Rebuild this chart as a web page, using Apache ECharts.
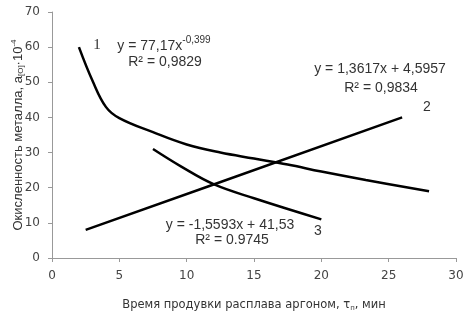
<!DOCTYPE html>
<html>
<head>
<meta charset="utf-8">
<script src="https://cdn.jsdelivr.net/npm/echarts@6/dist/echarts.min.js"></script>
<style>
  html, body { margin: 0; padding: 0; background: #fff; }
  #chart { width: 472px; height: 320px; }
</style>
</head>
<body>
<div id="chart"></div>
<script>
// curve 1 - power fit
var curve1X = [2, 3, 4, 5, 7.5, 10, 12.5, 15, 17.5, 20, 23.3, 28];
var curve1Y = [60, 50.5, 43, 39.8, 35.8, 32.3, 30, 28.3, 26.6, 24.6, 22.2, 19];
// curve 2 - linear growth
var curve2X = [2.5, 12, 26];
var curve2Y = [8, 20.9, 40];
// curve 3 - descending
var curve3X = [7.5, 9.6, 12, 15, 20];
var curve3Y = [31, 26, 21, 17, 11];

var xTicks = [0, 30, 5];
var yTicks = [0, 70, 10];

function pairs(xs, ys) {
    return xs.map(function (x, i) { return [x, ys[i]]; });
}

var myChart = echarts.init(document.getElementById('chart'));

var lineStyle = { color: '#000', width: 2.5 };
var eqFont = 'Liberation Sans, Arial, sans-serif';
var eqRich = {
    t: { fontSize: 14, fontFamily: eqFont, fill: '#333', lineHeight: 18, verticalAlign: 'bottom' },
    s: { fontSize: 10, fontFamily: eqFont, fill: '#333', lineHeight: 18, verticalAlign: 'top' }
};

function label(x, y, text, size) {
    return {
        type: 'text', x: x, y: y,
        style: {
            text: text, font: (size || 14) + 'px ' + eqFont, fill: '#333',
            align: 'center', verticalAlign: 'middle'
        }
    };
}

myChart.setOption({
    animation: false,
    grid: { left: 52, right: 16, top: 12, bottom: 62, containLabel: false, outerBoundsMode: 'none' },
    xAxis: {
        type: 'value',
        min: xTicks[0], max: xTicks[1], interval: xTicks[2],
        axisLine: { lineStyle: { color: '#999', width: 1 } },
        axisTick: { show: true, length: 4, lineStyle: { color: '#999' } },
        splitLine: { show: false },
        axisLabel: { color: '#444', fontSize: 12, fontFamily: 'DejaVu Sans', margin: 12 },
        name: 'Время продувки расплава аргоном, {i|τ}{sub|п}, мин',
        nameLocation: 'middle',
        nameGap: 41,
        nameMoveOverlap: false,
        nameTextStyle: {
            color: '#333', fontSize: 11.5, fontFamily: 'DejaVu Sans',
            rich: {
                i: { color: '#333', fontSize: 11.5, fontFamily: 'DejaVu Sans' },
                sub: { color: '#333', fontSize: 7, fontFamily: 'DejaVu Sans', verticalAlign: 'bottom', padding: [6, 0, 0, 0] }
            }
        }
    },
    yAxis: {
        type: 'value',
        min: yTicks[0], max: yTicks[1], interval: yTicks[2],
        axisLine: { show: true, lineStyle: { color: '#999', width: 1 } },
        axisTick: { show: true, length: 4, lineStyle: { color: '#999' } },
        splitLine: { show: false },
        axisLabel: { color: '#444', fontSize: 12, fontFamily: 'DejaVu Sans', margin: 12 },
        name: 'Окисленность металла, a{sub|[O]}·10{sup|-4}',
        nameLocation: 'middle',
        nameGap: 26,
        nameMoveOverlap: false,
        nameTextStyle: {
            color: '#333', fontSize: 13, fontFamily: eqFont,
            rich: {
                sub: { color: '#333', fontSize: 8, fontFamily: eqFont, padding: [6, 0, 0, 0] },
                sup: { color: '#333', fontSize: 8, fontFamily: eqFont, padding: [0, 0, 8, 0] }
            }
        }
    },
    series: [
        { type: 'line', data: pairs(curve1X, curve1Y), smooth: 0.4, showSymbol: false, lineStyle: lineStyle },
        { type: 'line', data: pairs(curve2X, curve2Y), smooth: false, showSymbol: false, lineStyle: lineStyle },
        { type: 'line', data: pairs(curve3X, curve3Y), smooth: 0.4, showSymbol: false, lineStyle: lineStyle }
    ],
    graphic: [
        { type: 'text', x: 97, y: 45, style: { text: '1', font: '15px Liberation Serif', fill: '#333', align: 'center', verticalAlign: 'middle' } },
        { type: 'text', x: 164, y: 44, style: { text: '{t|y = 77,17x}{s|-0,399}', rich: eqRich, align: 'center', verticalAlign: 'middle' } },
        label(165, 62, 'R² = 0,9829'),
        label(380, 69, 'y = 1,3617x + 4,5957'),
        label(381, 88, 'R² = 0,9834'),
        label(427, 107, '2'),
        label(230, 225, 'y = -1,5593x + 41,53'),
        label(232, 240, 'R² = 0.9745'),
        label(318, 231, '3')
    ]
});
</script>
</body>
</html>
